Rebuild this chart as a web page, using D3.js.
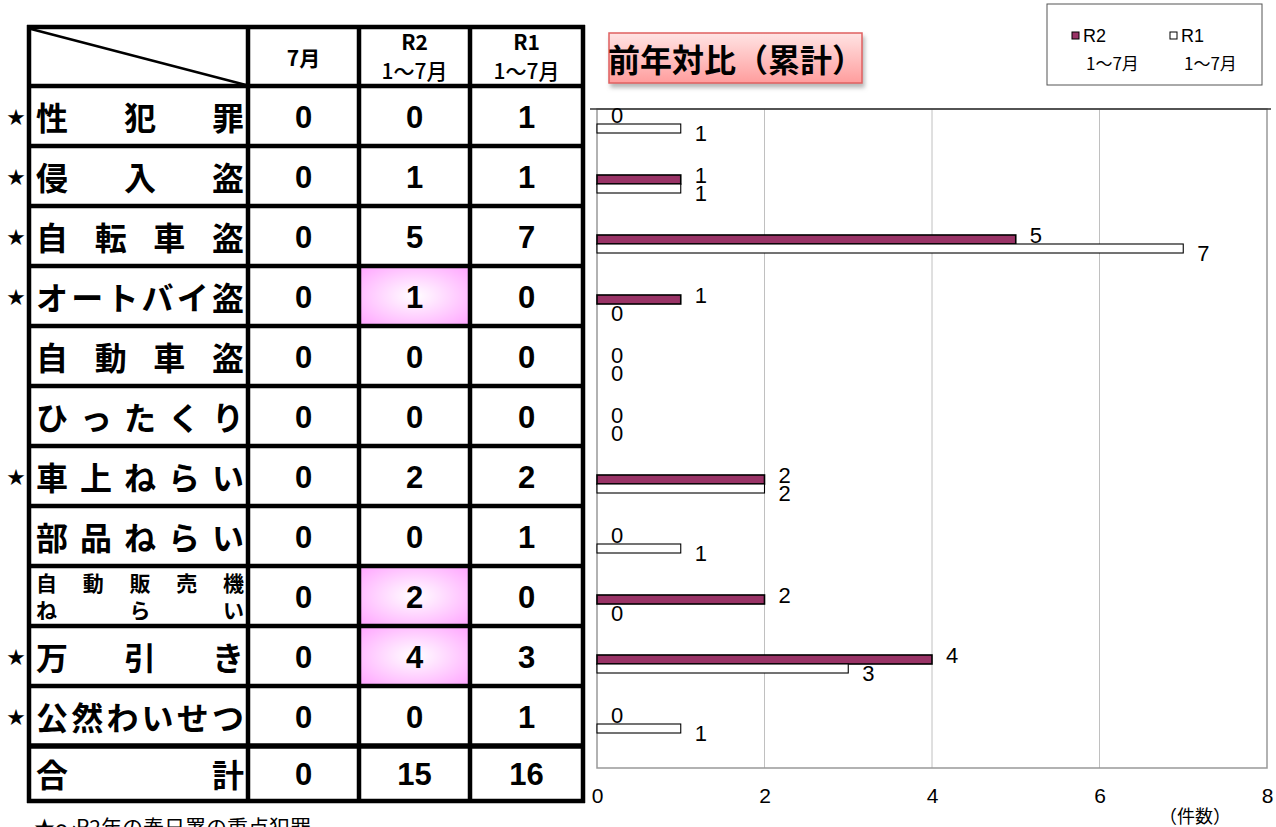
<!DOCTYPE html>
<html>
<head>
<meta charset="utf-8">
<script src="https://cdn.jsdelivr.net/npm/d3@7"></script>
<style>
    body { margin: 0; background: #fff; }
    svg { display: block; }
    .jp { font-family: "Noto Sans CJK JP", sans-serif; }
    .num { font-family: "Liberation Sans", Arial, sans-serif; }
</style>
</head>
<body>
<div id="chart"></div>
<script>
// ========== データ ==========
const categories = ['性犯罪', '侵入盗', '自転車盗', 'オートバイ盗', '自動車盗', 'ひったくり', '車上ねらい', '部品ねらい', '自動販売機ねらい', '万引き', '公然わいせつ'];
const keyCrime = [true, true, true, true, false, false, true, false, false, true, true];
const july = [0, 0, 0, 0, 0, 0, 0, 0, 0, 0, 0];
const r2 = [0, 1, 5, 1, 0, 0, 2, 0, 2, 4, 0];
const r1 = [1, 1, 7, 0, 0, 0, 2, 1, 0, 3, 1];
const totals = [0, 15, 16];
const seriesNames = ['R2', 'R1'];
const xTicks = [0, 2, 4, 6, 8];

const W = 1276, H = 827;
const svg = d3.select('#chart').append('svg').attr('width', W).attr('height', H);

const defs = svg.append('defs');
const pinkCell = defs.append('radialGradient').attr('id', 'pinkCell').attr('r', '0.75');
pinkCell.append('stop').attr('offset', '0%').attr('stop-color', '#ffffff');
pinkCell.append('stop').attr('offset', '100%').attr('stop-color', '#ff9cff');
const titleGrad = defs.append('linearGradient').attr('id', 'titleGrad').attr('x1', 0).attr('y1', 0).attr('x2', 0).attr('y2', 1);
titleGrad.append('stop').attr('offset', '0%').attr('stop-color', '#ffe4e4');
titleGrad.append('stop').attr('offset', '100%').attr('stop-color', '#ff9d9d');
const shadow = defs.append('filter').attr('id', 'shadow').attr('x', '-10%').attr('y', '-10%').attr('width', '130%').attr('height', '150%');
shadow.append('feDropShadow').attr('dx', 2).attr('dy', 4).attr('stdDeviation', 2).attr('flood-color', '#888').attr('flood-opacity', 0.6);

// ========== 表 ==========
const colEdges = [29, 248, 359, 470, 583];
const rowY = d3.scaleBand().domain(categories).range([86, 746]);
const table = svg.append('g');
const highlighted = ['オートバイ盗', '自動販売機ねらい', '万引き'];

table.selectAll('rect.hl')
    .data(categories.filter(c => highlighted.includes(c)))
    .enter().append('rect')
    .attr('class', 'hl')
    .attr('x', colEdges[2]).attr('y', d => rowY(d))
    .attr('width', colEdges[3] - colEdges[2]).attr('height', rowY.bandwidth())
    .attr('fill', 'url(#pinkCell)');

// 見出しの斜線
table.append('line').attr('x1', 31).attr('y1', 29).attr('x2', 246).attr('y2', 85)
    .attr('stroke', '#000').attr('stroke-width', 2.5);

const hLines = [27].concat(categories.map(c => rowY(c)), [746, 801]);
table.selectAll('line.h').data(hLines).enter().append('line')
    .attr('x1', 27).attr('x2', 585)
    .attr('y1', d => d).attr('y2', d => d)
    .attr('stroke', '#000').attr('stroke-width', d => d === 746 ? 5.5 : 4.5);
table.selectAll('line.v').data(colEdges).enter().append('line')
    .attr('x1', d => d).attr('x2', d => d)
    .attr('y1', 25).attr('y2', 803)
    .attr('stroke', '#000').attr('stroke-width', 4.5);

const colCenter = i => (colEdges[i] + colEdges[i + 1]) / 2;
table.append('text').attr('class', 'jp').attr('x', colCenter(1)).attr('y', 57)
    .attr('text-anchor', 'middle').attr('dominant-baseline', 'central')
    .attr('font-size', 21).attr('font-weight', 700).text('7月');
[['R2', '1～7月'], ['R1', '1～7月']].forEach((h, i) => {
    table.append('text').attr('class', 'jp').attr('x', colCenter(i + 2)).attr('y', 41)
        .attr('text-anchor', 'middle').attr('dominant-baseline', 'central')
        .attr('font-size', 21).attr('font-weight', 700).text(h[0]);
    table.append('text').attr('class', 'jp').attr('x', colCenter(i + 2)).attr('y', 70)
        .attr('text-anchor', 'middle').attr('dominant-baseline', 'central')
        .attr('font-size', 21).attr('font-weight', 500).text(h[1]);
});

// 均等割付
function spreadText(g, str, yc, fs) {
    const chars = Array.from(str);
    const left = 36, right = 244;
    const step = chars.length > 1 ? (right - left - fs) / (chars.length - 1) : 0;
    g.selectAll(null).data(chars).enter().append('text')
        .attr('class', 'jp')
        .attr('x', (d, i) => left + i * step + fs / 2)
        .attr('y', yc)
        .attr('text-anchor', 'middle').attr('dominant-baseline', 'central')
        .attr('font-size', fs).attr('font-weight', 700)
        .text(d => d);
}

categories.forEach((c, i) => {
    const yc = rowY(c) + rowY.bandwidth() / 2;
    const g = table.append('g');
    if (c.length > 6) {
        spreadText(g, c.slice(0, 5), yc - 14, 21);
        spreadText(g, c.slice(5), yc + 13, 21);
    } else {
        spreadText(g, c, yc, 32);
    }
    if (keyCrime[i]) {
        table.append('text').attr('class', 'jp').attr('x', 16).attr('y', yc)
            .attr('text-anchor', 'middle').attr('dominant-baseline', 'central')
            .attr('font-size', 18).text('★');
    }
    [july[i], r2[i], r1[i]].forEach((v, j) => {
        table.append('text').attr('class', 'num').attr('x', colCenter(j + 1)).attr('y', yc + 1)
            .attr('text-anchor', 'middle').attr('dominant-baseline', 'central')
            .attr('font-size', 31).attr('font-weight', 700).text(v);
    });
});
spreadText(table.append('g'), '合計', 773, 32);
totals.forEach((v, j) => {
    table.append('text').attr('class', 'num').attr('x', colCenter(j + 1)).attr('y', 774)
        .attr('text-anchor', 'middle').attr('dominant-baseline', 'central')
        .attr('font-size', 31).attr('font-weight', 700).text(v);
});

svg.append('text').attr('class', 'jp').attr('x', 34).attr('y', 835)
    .attr('font-size', 21).text('★～R2年の春日署の重点犯罪');

// ========== グラフ ==========
const x = d3.scaleLinear().domain([0, 8]).range([597, 1267]);
const y0 = d3.scaleBand().domain(categories).range([94, 754]);
const y1 = d3.scaleBand().domain(seriesNames).range([0, y0.bandwidth()]).paddingOuter(2.333);
const plotTop = 109, plotBottom = 768;

const chart = svg.append('g');
chart.selectAll('line.grid').data(xTicks.slice(1, -1)).enter().append('line')
    .attr('x1', d => x(d)).attr('x2', d => x(d))
    .attr('y1', plotTop).attr('y2', plotBottom)
    .attr('stroke', '#c0c0c0').attr('stroke-width', 1);
chart.append('rect').attr('x', x(0)).attr('y', plotTop)
    .attr('width', x(8) - x(0)).attr('height', plotBottom - plotTop)
    .attr('fill', 'none').attr('stroke', '#999').attr('stroke-width', 1.5);
chart.append('line').attr('x1', 590).attr('x2', 1271).attr('y1', plotTop).attr('y2', plotTop)
    .attr('stroke', '#333').attr('stroke-width', 1.5);

const barData = [];
categories.forEach((c, i) => {
    barData.push({ cat: c, series: 'R2', value: r2[i] });
    barData.push({ cat: c, series: 'R1', value: r1[i] });
});

chart.selectAll('rect.bar')
    .data(barData.filter(d => d.value > 0))
    .enter().append('rect')
    .attr('class', 'bar')
    .attr('x', x(0))
    .attr('y', d => y0(d.cat) + y1(d.series))
    .attr('width', d => x(d.value) - x(0))
    .attr('height', y1.bandwidth())
    .attr('fill', d => d.series === 'R2' ? '#993366' : '#ffffff')
    .attr('stroke', '#000')
    .attr('stroke-width', d => d.series === 'R2' ? 1.6 : 1.1);

chart.selectAll('text.lbl')
    .data(barData)
    .enter().append('text')
    .attr('class', 'num')
    .attr('x', d => x(d.value) + 14)
    .attr('y', d => y0(d.cat) + y1(d.series) + y1.bandwidth() / 2 + (d.series === 'R2' ? -4 : 5))
    .attr('dominant-baseline', 'central')
    .attr('font-size', 22)
    .text(d => d.value);

const xAxis = chart.append('g')
    .attr('transform', `translate(0,${plotBottom})`)
    .call(d3.axisBottom(x).tickValues(xTicks).tickSize(0).tickPadding(20));
xAxis.select('.domain').remove();
xAxis.selectAll('text').attr('class', 'num').attr('font-size', 21).attr('fill', '#000');

chart.append('text').attr('class', 'jp').attr('x', 1195).attr('y', 815)
    .attr('text-anchor', 'middle').attr('dominant-baseline', 'central')
    .attr('font-size', 18).text('（件数）');

// タイトル
svg.append('rect').attr('x', 609).attr('y', 33).attr('width', 253).attr('height', 50)
    .attr('fill', 'url(#titleGrad)').attr('stroke', '#e06060').attr('stroke-width', 1.5)
    .attr('filter', 'url(#shadow)');
svg.append('text').attr('class', 'jp').attr('x', 736).attr('y', 58)
    .attr('text-anchor', 'middle').attr('dominant-baseline', 'central')
    .attr('font-size', 32).attr('font-weight', 700).text('前年対比（累計）');

// 凡例
const legend = svg.append('g');
legend.append('rect').attr('x', 1047).attr('y', 4).attr('width', 215).attr('height', 81)
    .attr('fill', '#fff').attr('stroke', '#555').attr('stroke-width', 1);
seriesNames.forEach((s, i) => {
    const lx = 1072 + i * 98;
    legend.append('rect').attr('x', lx).attr('y', 32).attr('width', 7).attr('height', 7)
        .attr('fill', s === 'R2' ? '#993366' : '#fff').attr('stroke', '#000').attr('stroke-width', 1);
    legend.append('text').attr('class', 'num').attr('x', lx + 11).attr('y', 36)
        .attr('dominant-baseline', 'central').attr('font-size', 18).text(s);
    legend.append('text').attr('class', 'jp').attr('x', lx + 14).attr('y', 62)
        .attr('dominant-baseline', 'central').attr('font-size', 17).text('1～7月');
});
</script>
</body>
</html>
